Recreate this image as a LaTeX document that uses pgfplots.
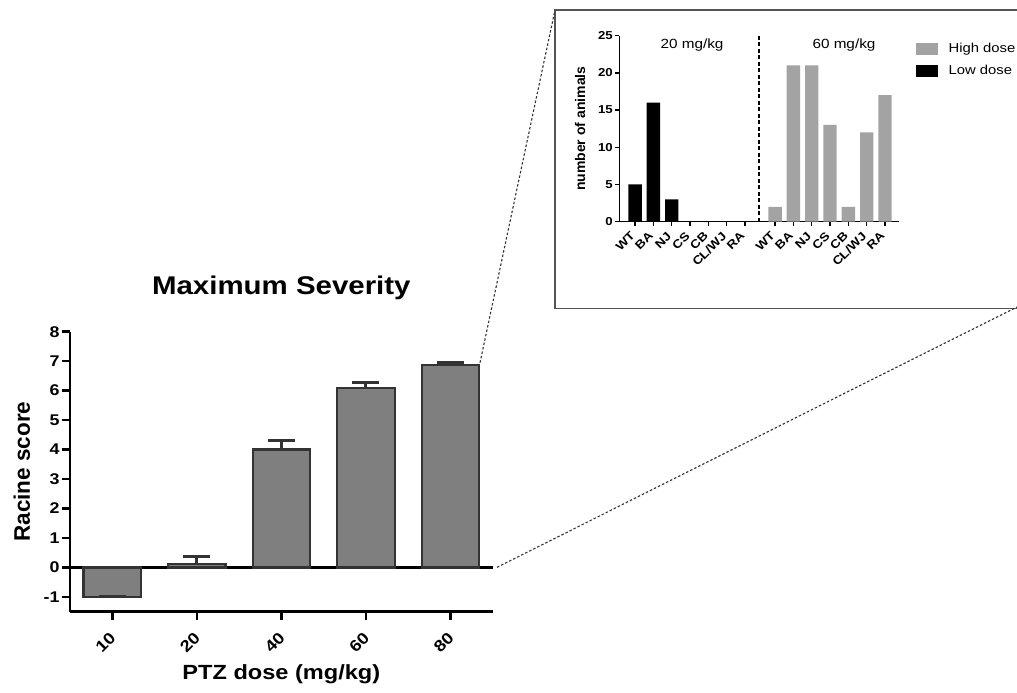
\documentclass[border=0pt]{standalone}
\usepackage{fontspec}
\setmainfont{Liberation Sans}[FakeStretch=1.15]
\newfontfamily\plainsans{Liberation Sans}
\usepackage{pgfplots}
\usepackage{pgfplotstable}
\pgfplotsset{compat=1.18}

\definecolor{barmain}{HTML}{7F7F7F}
\definecolor{baredge}{HTML}{333333}
\definecolor{barhigh}{HTML}{A3A3A3}
\definecolor{boxline}{HTML}{555555}

% PTZ dose, mean Racine score, upper error
\pgfplotstableread{
x y err
0 -1 0
1 0.13 0.25
2 4.0 0.3
3 6.08 0.2
4 6.87 0.1
}\severity

% number of animals per stage, 20 mg/kg
\pgfplotstableread{
x y
0 5
1 16
2 3
3 0
4 0
5 0
6 0
}\lowdose

% number of animals per stage, 60 mg/kg
\pgfplotstableread{
x y
7.64 2
8.64 21
9.64 21
10.64 13
11.64 2
12.64 12
13.64 17
}\highdose

\begin{document}
\begin{tikzpicture}
\useasboundingbox (0pt,0pt) rectangle (1017pt,693pt);

% inset frame and zoom lines
\draw[line width=1.3pt, boxline] (555pt,683pt) rectangle (1040pt,384.7pt);
\draw[line width=1.1pt, baredge, dash pattern=on 2.5pt off 2pt] (480pt,330.3pt) -- (555pt,683pt);
\draw[line width=1.1pt, baredge, dash pattern=on 2.5pt off 2pt] (497pt,125.7pt) -- (1040pt,397.5pt);

\begin{axis}[
  at={(70pt,81.3pt)}, anchor=south west,
  scale only axis, width=422.7pt, height=280pt,
  xmin=-0.5, xmax=4.5, ymin=-1.5, ymax=8,
  axis x line*=bottom, axis y line*=left,
  axis line style={line width=2.5pt, -},
  tick style={black, line width=2.5pt},
  major tick length=8pt, tick align=outside,
  xtick={0,...,4}, xticklabels={10,20,40,60,80},
  ytick={-1,0,...,8},
  extra y ticks={0}, extra y tick labels={},
  extra y tick style={grid=major, major grid style={black, line width=2.5pt}},
  /pgf/number format/assume math mode=true,
  yticklabel style={font=\bfseries\fontsize{15.5}{18}\selectfont, xshift=1pt},
  xticklabel style={font=\bfseries\fontsize{16}{18}\selectfont, xshift=3pt, yshift=-13pt, rotate=45, anchor=east},
  title={\bfseries Maximum Severity},
  title style={font=\fontsize{25.6}{30}\selectfont, at={(axis description cs:0.5,1.135)}, anchor=center},
  xlabel={\bfseries PTZ dose (mg/kg)},
  xlabel style={font=\fontsize{20.5}{24}\selectfont, at={(axis description cs:0.5,-0.222)}, anchor=center},
  ylabel={\plainsans\bfseries Racine score},
  ylabel style={font=\fontsize{22.5}{26}\selectfont, at={(axis description cs:-0.114,0.5)}, anchor=center},
  ybar, bar width=0.68,
]
\addplot[ybar, bar shift=0pt, fill=barmain, draw=baredge, line width=2.2pt,
  error bars/.cd, y dir=plus, y explicit, error mark=|,
  error bar style={line width=3pt, baredge},
  error mark options={line width=3pt, mark size=13.5pt, baredge}]
  table[x=x, y=y, y error=err] {\severity};
\end{axis}

\begin{axis}[
  at={(619.3pt,471.3pt)}, anchor=south west,
  scale only axis, width=280pt, height=186pt,
  xmin=-0.86, xmax=14.42, ymin=0, ymax=25,
  axis x line*=bottom, axis y line*=left,
  axis line style={line width=1.5pt, -},
  tick style={black, line width=1.5pt},
  major tick length=4pt, tick align=outside,
  xtick={0,1,2,3,4,5,6,7.64,8.64,9.64,10.64,11.64,12.64,13.64},
  xticklabels={WT,BA,NJ,CS,CB,CL/WJ,RA,WT,BA,NJ,CS,CB,CL/WJ,RA},
  ytick={0,5,...,25},
  /pgf/number format/assume math mode=true,
  yticklabel style={font=\bfseries\fontsize{11.5}{13}\selectfont, xshift=1pt},
  xticklabel style={font=\bfseries\fontsize{11.8}{13}\selectfont, yshift=-6pt, rotate=45, anchor=east},
  ylabel={\plainsans\bfseries number of animals},
  ylabel style={font=\fontsize{14}{16}\selectfont, at={(axis description cs:-0.14,0.5)}, anchor=center},
  ybar, bar width=0.73,
  legend style={at={(axis description cs:1.06,0.97)}, anchor=north west, draw=none, fill=none,
    font=\fontsize{12.9}{15}\selectfont, row sep=7pt, inner sep=0pt,
    /tikz/every odd column/.append style={column sep=9pt}},
  legend cell align=left,
  legend image code/.code={\fill[#1] (0pt,-5.8pt) rectangle (21.3pt,5.8pt);},
]
\addplot[ybar, bar shift=0pt, fill=barhigh, draw=none] table[x=x, y=y] {\highdose};
\addplot[ybar, bar shift=0pt, fill=black, draw=none] table[x=x, y=y] {\lowdose};
\draw[line width=1.8pt, dash pattern=on 4pt off 2.5pt] (axis cs:6.78,0) -- (axis cs:6.78,25);
\node[font=\fontsize{13.3}{15}\selectfont] at (axis cs:3.11,23.7) {20 mg/kg};
\node[font=\fontsize{13.3}{15}\selectfont] at (axis cs:11.4,23.7) {60 mg/kg};
\legend{High dose, Low dose}
\end{axis}
\end{tikzpicture}
\end{document}
